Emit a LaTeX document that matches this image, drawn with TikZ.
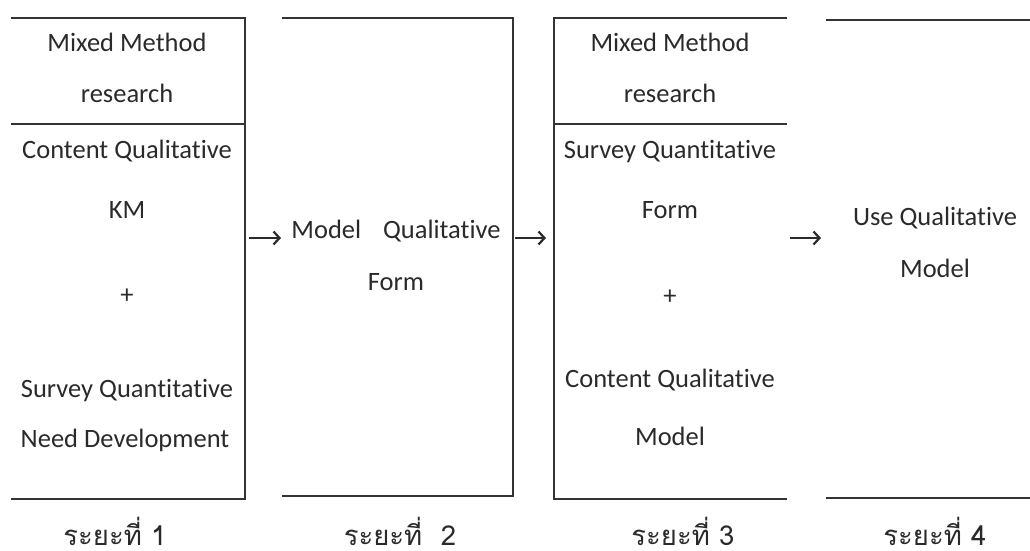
\documentclass[tikz,border=0pt]{standalone}
\usepackage{fontspec}
\setmainfont{Carlito}[Ligatures={NoCommon}]
\newfontfamily\thaifont[Script=Thai]{Loma}
\usetikzlibrary{arrows.meta}
\definecolor{ink}{HTML}{2A2A2A}
\definecolor{rule}{HTML}{333333}
\tikzset{
  frame/.style={draw=none, inner sep=0pt, outer sep=0pt},
  edge/.style={draw=rule, line width=2pt},
  txt/.style={inner sep=0pt, anchor=base, text=ink, font=\fontsize{26.5}{30}\selectfont},
  phase/.style={inner sep=0pt, anchor=base, text depth=0pt, text=ink, font=\thaifont\fontsize{27.5}{32}\selectfont},
  arr/.style={draw=ink, line width=2.2pt, -{Straight Barb[length=6pt,width=13pt,line width=2.2pt]}}
}
\begin{document}
\begin{tikzpicture}[x=1pt,y=-1pt]
\useasboundingbox (0,0) rectangle (1030,551);
% box frames (invisible nodes)
\node[frame, minimum width=234pt, minimum height=481pt] (b1) at (128,258.5) {};
\node[frame, minimum width=231pt, minimum height=478pt] (b2) at (397.5,257) {};
\node[frame, minimum width=233pt, minimum height=481pt] (b3) at (670.5,258.5) {};
\node[frame, minimum width=204pt, minimum height=478pt] (b4) at (928,259) {};
% sides
\draw[edge] (b1.north west) -- (b1.north east) -- (b1.south east) -- (b1.south west);
\draw[edge] (b1.west |- 0,124) -- (b1.east |- 0,124);
\draw[edge] (b2.north west) -- (b2.north east) -- (b2.south east) -- (b2.south west);
\draw[edge] (b3.north east) -- (b3.north west) -- (b3.south west) -- (b3.south east);
\draw[edge] (b3.west |- 0,124) -- (b3.east |- 0,124);
\draw[edge] (b4.north west) -- (b4.north east);
\draw[edge] (b4.south west) -- (b4.south east);
% box 1 texts
\node[txt] (t11) at (127,52) {Mixed Method};
\node[txt] (t12) at (127,102) {research};
\node[txt] (t13) at (127,158) {Content Qualitative};
\node[txt] (t14) at (127,218) {KM};
\node[txt] (t15) at (127,303) {+};
\node[txt] (t16) at (127,397) {Survey Quantitative};
\node[txt] (t17) at (125,447) {Need Development};
% box 2 texts
\node[txt] (t21) at (396,238) {Model\hspace{0.6em} Qualitative};
\node[txt] (t22) at (396,290) {Form};
% box 3 texts
\node[txt] (t31) at (670,52) {Mixed Method};
\node[txt] (t32) at (670,102) {research};
\node[txt] (t33) at (670,158) {Survey Quantitative};
\node[txt] (t34) at (670,218) {Form};
\node[txt] (t35) at (670,304) {+};
\node[txt] (t36) at (670,387) {Content Qualitative};
\node[txt] (t37) at (670,445) {Model};
% box 4 texts
\node[txt] (t41) at (935,225) {Use Qualitative};
\node[txt] (t42) at (935,277) {Model};
% arrows
\coordinate (a1s) at (249,238);
\coordinate (a1e) at (281,238);
\coordinate (a2s) at (515,238);
\coordinate (a2e) at (546,238);
\coordinate (a3s) at (790,238);
\coordinate (a3e) at (821,238);
\draw[arr] (a1s) -- (a1e);
\draw[arr] (a2s) -- (a2e);
\draw[arr] (a3s) -- (a3e);
% phase labels
\node[phase] (p1) at (115,545) {ระยะที่ 1};
\node[phase] (p2) at (400,545) {ระยะที่\ \ 2};
\node[phase] (p3) at (683,545) {ระยะที่ 3};
\node[phase] (p4) at (935,545) {ระยะที่ 4};
\end{tikzpicture}
\end{document}
